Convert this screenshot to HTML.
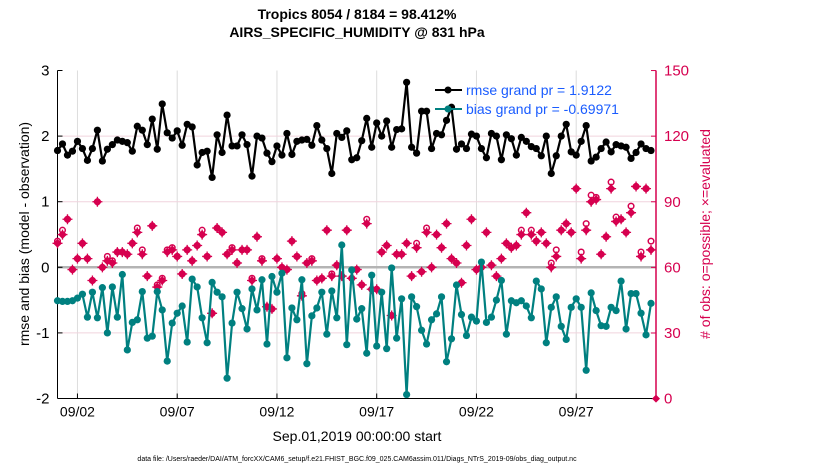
<!DOCTYPE html>
<html><head><meta charset="utf-8"><style>
html,body{margin:0;padding:0;background:#fff;}
svg{display:block;font-family:"Liberation Sans",Arial,sans-serif;}
</style></head><body>
<svg id="chart" width="830" height="470" viewBox="0 0 830 470" xmlns="http://www.w3.org/2000/svg">
<text x="357" y="19" text-anchor="middle" font-size="14" font-weight="bold">Tropics 8054 / 8184 = 98.412%</text>
<text x="357" y="37" text-anchor="middle" font-size="14" font-weight="bold">AIRS_SPECIFIC_HUMIDITY @ 831 hPa</text>
<g id="grid"></g>
<g id="axes"></g>
<g id="marks"></g>
<text transform="translate(29,234) rotate(-90)" text-anchor="middle" font-size="14">rmse and bias (model - observation)</text>
<text transform="translate(710,234) rotate(-90)" text-anchor="middle" font-size="14" fill="#d6004f">#  of obs: o=possible; ×=evaluated</text>
<text x="357" y="441" text-anchor="middle" font-size="14">Sep.01,2019 00:00:00 start</text>
<text x="357" y="461" text-anchor="middle" font-size="7">data file: /Users/raeder/DAI/ATM_forcXX/CAM6_setup/f.e21.FHIST_BGC.f09_025.CAM6assim.011/Diags_NTrS_2019-09/obs_diag_output.nc</text>
<g id="legend">
<line x1="435" y1="90" x2="462" y2="90" stroke="#000" stroke-width="2"/><circle cx="448" cy="90" r="3.5" fill="#000"/>
<text x="466" y="95" font-size="14" fill="#1a5cff">rmse grand pr = 1.9122</text>
<line x1="435" y1="109" x2="462" y2="109" stroke="#008080" stroke-width="2"/><circle cx="448" cy="109" r="3.5" fill="#008080"/>
<text x="466" y="114" font-size="14" fill="#1a5cff">bias grand pr = -0.69971</text>
</g>
</svg>
<script>
const rmse = [1.78,1.88,1.71,1.77,1.92,1.81,1.63,1.81,2.09,1.62,1.80,1.87,1.94,1.92,1.90,1.77,2.15,2.09,1.87,2.26,1.80,2.49,2.05,1.97,2.08,1.86,2.18,2.14,1.56,1.75,1.77,1.37,2.02,1.75,2.32,1.85,1.85,2.02,1.87,1.39,2.0,1.97,1.74,1.61,1.85,1.71,2.04,1.72,1.92,1.94,1.95,1.86,2.16,1.94,1.81,1.43,2.04,1.98,2.08,1.64,1.67,
1.93,2.27,1.83,2.2,2.0,2.23,1.83,2.1,2.11,2.82,1.83,1.74,2.38,2.38,1.81,2.04,2.02,2.24,2.44,1.80,1.88,1.81,2.03,2.0,1.81,1.67,2.04,2.0,1.64,2.02,1.96,1.71,1.98,1.92,1.84,1.81,1.70,2.0,1.43,1.70,2.0,2.18,1.76,1.71,1.92,2.16,1.62,1.68,1.81,1.91,1.76,1.87,1.85,1.83,1.66,1.75,1.88,1.81,1.78];
const bias = [-0.51,-0.52,-0.52,-0.51,-0.47,-0.41,-0.76,-0.38,-0.77,-0.31,-1.0,-0.30,-0.76,-0.11,-1.26,-0.84,-0.80,-0.37,-1.08,-1.05,-0.37,-0.65,-1.43,-0.85,-0.70,-0.59,-1.14,-0.18,-0.30,-0.77,-1.15,-0.23,-0.38,-0.45,-1.69,-0.85,-0.38,-0.63,-0.94,-0.33,-0.65,-0.19,-1.17,-0.14,-0.38,-0.09,-1.38,-0.62,-0.80,-0.19,-1.47,-0.74,-0.62,-0.38,-1.02,-0.36,-0.77,0.34,-1.18,-0.04,-0.79,
-0.63,-1.31,-0.12,-1.20,-0.38,-1.24,-0.01,-1.08,-0.48,-1.94,-0.45,-0.60,-0.96,-1.17,-0.80,-0.71,-0.45,-1.44,-1.09,-0.27,-0.72,-1.04,-0.76,-0.82,0.08,-0.84,-0.76,-0.50,-0.20,-1.02,-0.51,-0.54,-0.51,-0.59,-0.77,-0.21,-0.33,-1.15,-0.61,-0.45,-0.90,-1.10,-0.61,-0.48,-0.61,-1.57,-0.39,-0.66,-0.89,-0.90,-0.61,-0.66,-0.21,-0.94,-0.40,-0.40,-0.70,-1.03,-0.55];
const evaluated = [71,75,82,59,64,71,64,54,90,60,63,62,67,67,66,71,76,66,56,79,51,54,67,68,65,57,68,63,70,75,65,39,78,76,66,68,62,68,68,54,74,63,42,41,64,60,59,72,65,47,62,63,54,55,77,56,61,56,77,55,59,
52,80,50,50,67,70,38,66,66,71,56,69,58,76,60,75,69,80,64,62,53,70,82,59,60,76,61,56,64,71,69,70,75,85,75,72,76,71,60,65,77,80,76,96,64,77,90,91,66,74,96,81,82,76,85,97,65,96,68];
const possible = [72,77,82,59,64,71,64,54,90,60,65,63,67,67,66,71,78,68,56,79,52,55,68,69,65,57,68,63,70,77,65,39,78,76,66,69,62,68,68,55,74,64,42,41,64,60,59,72,65,48,62,64,54,55,77,57,61,56,77,55,59,
52,82,50,50,67,70,38,66,66,71,56,71,58,78,60,75,69,80,64,62,53,70,82,59,60,76,61,56,64,71,69,70,77,85,77,72,76,71,62,68,77,80,76,96,67,80,93,92,66,74,99,83,82,76,88,97,67,96,72];
const dayTicks = [1,6,11,16,21,26];
const dayLabels = ["09/02","09/07","09/12","09/17","09/22","09/27"];
const leftTicks = [-2,-1,0,1,2,3];
const rightTicks = [0,30,60,90,120,150];

const NS="http://www.w3.org/2000/svg";
const X0=57.5, PXDAY=19.95;
const xs=d=>X0+d*PXDAY;
const yL=v=>267.3-v*65.6;
const yR=c=>398.6-c*2.187;
const tAt=i=>i*0.25;
function mk(tag,attrs,parent){const e=document.createElementNS(NS,tag);for(const k in attrs)e.setAttribute(k,attrs[k]);parent.appendChild(e);return e;}
const grid=document.getElementById('grid'),axes=document.getElementById('axes'),marks=document.getElementById('marks');
const xR=656, yTop=yL(3), yBot=yL(-2);
dayTicks.forEach((d,i)=>{
  const g=mk('line',{x1:xs(d),x2:xs(d),y1:yTop,y2:yBot,stroke:'#dcdcdc','stroke-width':1},grid);
  
  
  const t=mk('line',{x1:xs(d),x2:xs(d),y1:yBot,y2:yBot-5,stroke:'#000'},axes);
  
  
  const l=mk('text',{x:xs(d),y:yBot+18,'text-anchor':'middle','font-size':14},axes);
  l.textContent=dayLabels[i];
  
  
});
leftTicks.forEach(v=>{
  if(v!==0&&v!==3&&v!==-2){const g=mk('line',{x1:X0,x2:xR,y1:yL(v),y2:yL(v),stroke:'#f0d4de','stroke-width':1},grid);
  
  }
  const t=mk('line',{x1:X0,x2:X0+5,y1:yL(v),y2:yL(v),stroke:'#000'},axes);
  
  
  const l=mk('text',{x:X0-8,y:yL(v)+5,'text-anchor':'end','font-size':15},axes);
  l.textContent=String(v);
  
  
});
const zl=mk('line',{x1:X0,x2:xR,y1:yL(0),y2:yL(0),stroke:'#b4b4b4','stroke-width':2.5},grid);


rightTicks.forEach(c=>{
  const t=mk('line',{x1:xR,x2:xR-5,y1:yR(c),y2:yR(c),stroke:'#d6004f'},axes);
  
  
  const l=mk('text',{x:xR+8,y:yR(c)+5,'font-size':15,fill:'#d6004f'},axes);
  l.textContent=String(c);
  
  
});
const la=mk('line',{x1:X0,x2:X0,y1:yTop,y2:yBot,stroke:'#000'},axes);


const ba=mk('line',{x1:X0,x2:xR,y1:yBot,y2:yBot,stroke:'#000'},axes);


const ra=mk('line',{x1:xR,x2:xR,y1:yTop,y2:yBot,stroke:'#d6004f','stroke-width':1.5},axes);



const col='#d6004f';
possible.forEach((c,i)=>{
  const e=mk('circle',{cx:xs(tAt(i)),cy:yR(c),r:2.8,fill:'#fff',stroke:col,'stroke-width':1.5},marks);
  
  
});
evaluated.forEach((c,i)=>{
  const x=xs(tAt(i)),y=yR(c);
  const e=mk('path',{d:`M${x-3.5},${y}L${x},${y-3.5}L${x+3.5},${y}L${x},${y+3.5}Z M${x},${y-5}V${y+5} M${x-5},${y}H${x+5}`,fill:col,stroke:col,'stroke-width':1.3},marks);
  
  
});
const endMark=mk('path',{d:`M${xR-4},${yR(0)}L${xR},${yR(0)-4}L${xR+4},${yR(0)}L${xR},${yR(0)+4}Z`,fill:col},marks);



function series(arr,color,name){
  const pts=arr.map((v,i)=>xs(tAt(i)).toFixed(1)+','+yL(v).toFixed(1)).join(' ');
  const p=mk('polyline',{points:pts,fill:'none',stroke:color,'stroke-width':2.2,'stroke-linejoin':'round'},marks);
  
  
  arr.forEach((v,i)=>{
    const c=mk('circle',{cx:xs(tAt(i)),cy:yL(v),r:3.6,fill:color},marks);
    
    
  });
}
series(bias,'#008080','bias');
series(rmse,'#000000','rmse');
</script>
</body></html>
